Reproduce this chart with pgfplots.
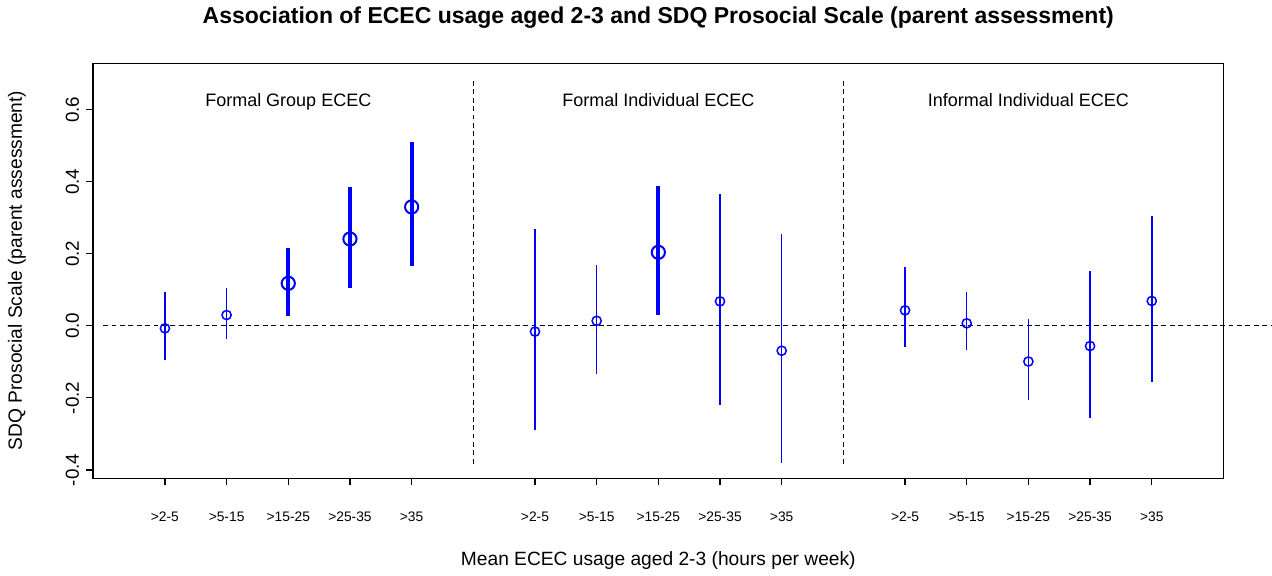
\documentclass[border=0pt]{standalone}
\usepackage{fontspec}
\setmainfont{Liberation Sans}
\usepackage{pgfplots}
\pgfplotsset{compat=1.18}
\usepackage{pgfplotstable}

% estimates with 95% CI
\pgfplotstableread{
x  y      lo      hi
1  -0.007 -0.096  0.095
2   0.030 -0.036  0.106
7  -0.016 -0.289  0.268
8   0.014 -0.133  0.169
10  0.068 -0.220  0.367
11 -0.069 -0.382  0.255
13  0.043 -0.060  0.162
14  0.007 -0.068  0.093
15 -0.099 -0.207  0.019
16 -0.056 -0.257  0.153
17  0.069 -0.157  0.304
}\nonsig
\pgfplotstableread{
x  y      lo      hi
3   0.118  0.026  0.217
4   0.241  0.106  0.385
5   0.330  0.167  0.509
9   0.204  0.031  0.387
}\sig

\definecolor{rblue}{RGB}{0,0,255}

\begin{document}
\begin{tikzpicture}
\begin{axis}[
  scale only axis, width=565.5pt, height=207.5pt,
  xmin=-0.167, xmax=18.166, ymin=-0.423, ymax=0.7286,
  clip=false,
  axis line style={line width=0.6pt},
  tick style={black, line width=0.6pt}, major tick length=3.5pt, tick align=outside,
  xtick pos=bottom, ytick pos=left,
  xtick={1,2,3,4,5,7,8,9,10,11,13,14,15,16,17},
  xticklabels={>2-5,>5-15,>15-25,>25-35,>35,>2-5,>5-15,>15-25,>25-35,>35,>2-5,>5-15,>15-25,>25-35,>35},
  ytick={-0.4,-0.2,0,0.2,0.4,0.6},
  xticklabel style={font=\fontsize{6.9}{8}\selectfont, anchor=base, yshift=-18pt},
  yticklabel style={font=\fontsize{9.4}{11}\selectfont, rotate=90, anchor=base, yshift=3.5pt},
  /pgf/number format/fixed, /pgf/number format/fixed zerofill,
  /pgf/number format/precision=1, /pgf/number format/assume math mode=true,
  xlabel={Mean ECEC usage aged 2-3 (hours per week)},
  ylabel={SDQ Prosocial Scale (parent assessment)},
  label style={font=\fontsize{9.6}{11}\selectfont},
  xlabel style={at={(rel axis cs:0.5,-0.2096)}, anchor=base},
  ylabel style={at={(rel axis cs:-0.0628,0.501)}, anchor=base, rotate=0},
  title={\bfseries Association of ECEC usage aged 2-3 and SDQ Prosocial Scale (parent assessment)},
  title style={font=\fontsize{11.5}{13}\selectfont, at={(rel axis cs:0.5,1.0964)}, anchor=base, yshift=-6pt},
]
\path (rel axis cs:-0.0822,-0.2337) rectangle (rel axis cs:1.04244,1.1494);
\draw[black, line width=0.6pt, dash pattern=on 2.4pt off 1.8pt] (axis cs:0,0) -- (axis cs:18.94,0);
\draw[black, line width=0.6pt, dash pattern=on 2.4pt off 1.8pt] (axis cs:6,-0.3825) -- (axis cs:6,0.684);
\draw[black, line width=0.6pt, dash pattern=on 2.4pt off 1.8pt] (axis cs:12,-0.3825) -- (axis cs:12,0.684);
\node[font=\fontsize{9}{11}\selectfont, anchor=base] at (axis cs:3,0.610) {Formal Group ECEC};
\node[font=\fontsize{9}{11}\selectfont, anchor=base] at (axis cs:9,0.610) {Formal Individual ECEC};
\node[font=\fontsize{9}{11}\selectfont, anchor=base] at (axis cs:15,0.610) {Informal Individual ECEC};

\addplot[rblue, only marks, mark=o, mark size=2.3pt, mark options={line width=0.75pt},
  error bars/.cd, y dir=both, y explicit, error mark=none,
  error bar style={line width=0.75pt, rblue}]
  table[x=x, y=y, y error plus expr=\thisrow{hi}-\thisrow{y}, y error minus expr=\thisrow{y}-\thisrow{lo}] {\nonsig};
\addplot[rblue, only marks, mark=o, mark size=3.3pt, mark options={line width=1pt},
  error bars/.cd, y dir=both, y explicit, error mark=none,
  error bar style={line width=2pt, rblue}]
  table[x=x, y=y, y error plus expr=\thisrow{hi}-\thisrow{y}, y error minus expr=\thisrow{y}-\thisrow{lo}] {\sig};
\end{axis}
\end{tikzpicture}
\end{document}
